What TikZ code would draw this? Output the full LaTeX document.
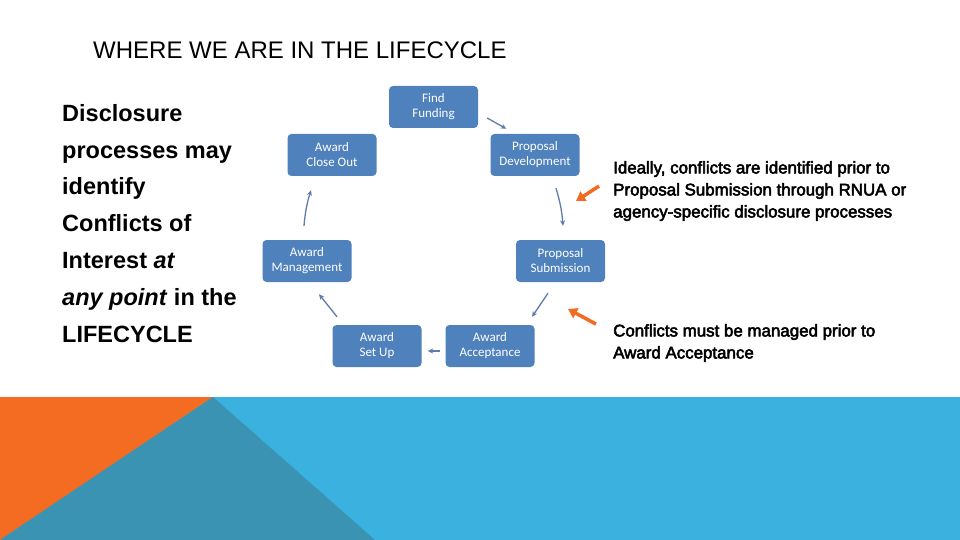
\documentclass[tikz,border=0pt]{standalone}
\usepackage{fontspec}
\setmainfont{Liberation Sans}
\newfontfamily\stagefont{Carlito}
\newfontfamily\notefont[FakeBold=3]{Liberation Sans}
\usetikzlibrary{calc,arrows.meta}
\definecolor{slideorange}{HTML}{F36C21}
\definecolor{slidesky}{HTML}{3AB1DF}
\definecolor{slideteal}{HTML}{3A93B3}
\definecolor{stageblue}{HTML}{4F81BD}
\definecolor{flowblue}{HTML}{5F7CAA}
\definecolor{noteorange}{HTML}{F26B23}

\begin{document}
\begin{tikzpicture}[x=1pt,y=-1pt,
    stage/.style={fill=stageblue,rounded corners=4pt,minimum width=89pt,minimum height=42pt,
      inner sep=1pt,align=center,text=white,font=\stagefont\fontsize{13}{15}\selectfont},
    flow/.style={-{Stealth[length=5.5pt,width=5pt]},flowblue,line width=1.3pt},
    callout/.style={-{Triangle[length=9pt,width=11pt]},noteorange,line width=3.5pt},
    blurb/.style={anchor=north west,inner sep=0pt,align=left}]
  \useasboundingbox (0,0) rectangle (960,540);
  \path[fill=white] (0,0) rectangle (960,540);
  \path[fill=slidesky] (0,397) rectangle (960,540);
  \path[fill=slideorange] (0,397) -- (213,397) -- (0,540) -- cycle;
  \path[fill=slideteal] (213,397) -- (375,540) -- (0,540) -- cycle;

  \node[blurb,font=\fontsize{24}{28}\selectfont] (title) at (93,42) {WHERE WE ARE IN THE LIFECYCLE};
  \node[blurb,font=\bfseries\fontsize{23.5}{36.8}\selectfont] (lead) at (62,104)
    {Disclosure\\processes may\\identify\\Conflicts of\\Interest \textit{at}\\\textit{any point} in the\\LIFECYCLE};

  \node[stage] (FF) at (433.5,107) {Find\\Funding};
  \node[stage] (PD) at (535,155) {Proposal\\Development};
  \node[stage] (PS) at (560.5,261) {Proposal\\Submission};
  \node[stage] (AA) at (490,346) {Award\\Acceptance};
  \node[stage] (SU) at (377,346) {Award\\Set Up};
  \node[stage] (AM) at (307,261) {Award\\Management};
  \node[stage] (CO) at (332,155) {Award\\Close Out};

  \draw[flow] ([shift={(9,11)}]FF.east) -- ([shift={(16,-5)}]PD.north west);
  \draw[flow] ([shift={(21,12)}]PD.south) to[bend left=6] ([shift={(2.5,-14)}]PS.north);
  \draw[flow] ([shift={(-12.5,11)}]PS.south) -- ([shift={(42,-8)}]AA.north);
  \draw[flow] ([shift={(-5,5)}]AA.west) -- ([shift={(6,5)}]SU.east);
  \draw[flow] ([shift={(-40,-8)}]SU.north) -- ([shift={(12,12)}]AM.south);
  \draw[flow] ([shift={(-3,-14)}]AM.north) to[bend left=6] ([shift={(-21,14)}]CO.south);

  \node[blurb,font=\notefont\fontsize{16.9}{22}\selectfont] (noteA) at (613,161)
    {Ideally, conflicts are identified prior to\\Proposal Submission through RNUA or\\agency-specific disclosure processes};
  \node[blurb,font=\notefont\fontsize{16.9}{22}\selectfont] (noteB) at (613,324)
    {Conflicts must be managed prior to\\Award Acceptance};

  \coordinate (tipA) at (576,201);
  \coordinate (tipB) at (568,309);
  \draw[callout] ([shift={(-14,-5)}]noteA.west) -- (tipA);
  \draw[callout] ([shift={(-17,-19)}]noteB.west) -- (tipB);
\end{tikzpicture}
\end{document}
